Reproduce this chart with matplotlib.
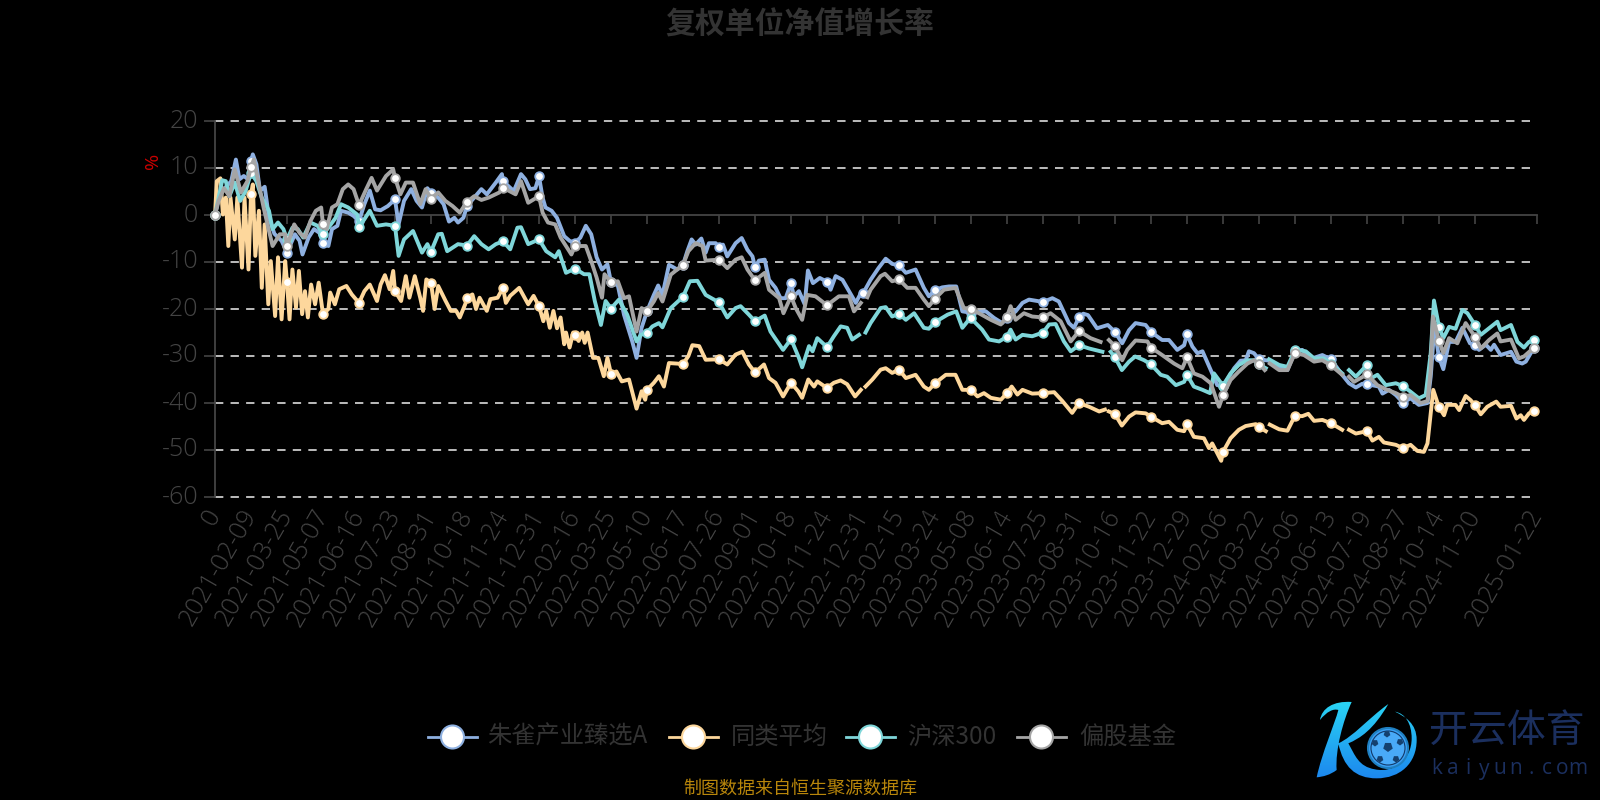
#!/usr/bin/env python3
import numpy as np
import matplotlib
matplotlib.use("Agg")
import matplotlib.pyplot as plt
from matplotlib.patches import Circle, PathPatch, RegularPolygon
from matplotlib.path import Path
from matplotlib.transforms import Affine2D

plt.rcParams['font.family'] = ['Noto Sans CJK SC', 'DejaVu Sans']
plt.rcParams['lines.scale_dashes'] = False
plt.rcParams['axes.unicode_minus'] = False

nan = float('nan')

title = '复权单位净值增长率'
source = '制图数据来自恒生聚源数据库'
series_names = ['朱雀产业臻选A', '同类平均', '沪深300', '偏股基金']
series_colors = ['#8eb0e0', '#fdd79c', '#7fd6d9', '#a5a5a5']

tick_labels = ['0', '2021-02-09', '2021-03-25', '2021-05-07', '2021-06-16', '2021-07-23',
               '2021-08-31', '2021-10-18', '2021-11-24', '2021-12-31', '2022-02-16',
               '2022-03-25', '2022-05-10', '2022-06-17', '2022-07-26', '2022-09-01',
               '2022-10-18', '2022-11-24', '2022-12-31', '2023-02-15', '2023-03-24',
               '2023-05-08', '2023-06-14', '2023-07-25', '2023-08-31', '2023-10-16',
               '2023-11-22', '2023-12-29', '2024-02-06', '2024-03-22', '2024-05-06',
               '2024-06-13', '2024-07-19', '2024-08-27', '2024-10-14', '2024-11-20',
               '2025-01-22']
y_ticks = [20, 10, 0, -10, -20, -30, -40, -50, -60]
last_k = 36.64

# (position in label intervals, growth %)
zhuque = [(0.0,0),(0.1,3.7),(0.25,5.5),(0.45,7.2),(0.58,11.8),(0.68,7.6),(0.8,8.3),(0.92,7.6),(1.0,11.5),(1.05,12.9),
    (1.15,10.8),(1.25,5.1),(1.38,6),(1.5,-0.6),(1.65,-4),(1.85,-5.5),(2.0,-8),(2.1,-6.2),(2.22,-4.1),(2.35,-5.5),
    (2.43,-8.4),(2.6,-4.8),(2.75,-3),(2.9,-3.8),(3.0,-6),(3.15,-6.6),(3.25,-3),(3.4,-2.3),(3.5,0.9),(3.7,0.5),
    (3.85,-0.2),(4.0,-1.3),(4.15,2.3),(4.3,5.2),(4.45,1.2),(4.6,1),(4.8,1.9),(5.0,3.3),(5.1,-2),(5.25,3),
    (5.45,5.5),(5.6,3),(5.75,1.6),(5.9,5.7),(6.0,4.7),(6.2,3.7),(6.35,2.3),(6.5,-1.4),(6.65,-0.6),(6.75,-1.6),
    (6.9,-0.6),(7.0,1.9),(7.2,3.7),(7.4,5.5),(7.55,4.4),(7.8,6.9),(7.97,8.7),(8.0,7.2),(8.1,6.5),(8.3,5.1),(8.5,8.7),
    (8.62,7.6),(8.75,5.5),(8.9,5.7),(9.0,8.2),(9.1,3.7),(9.18,1.6),(9.35,0.9),(9.5,-0.6),(9.7,-4.5),(9.85,-5.5),
    (10.0,-5.9),(10.15,-4.8),(10.3,-2.3),(10.45,-4.1),(10.6,-9),(10.75,-11.6),(10.9,-10.5),(11.0,-14.3),(11.19,-15),
    (11.36,-21.2),(11.59,-26.9),(11.71,-30.4),(11.85,-24),(12.0,-20.5),(12.19,-17),(12.31,-15),(12.43,-17),
    (12.61,-10.6),(12.84,-11.6),(13.0,-10.6),(13.12,-7.7),(13.24,-5.2),(13.35,-6.3),(13.51,-5),(13.63,-8),(13.72,-6),
    (13.91,-6),(14.0,-6.9),(14.11,-6.3),(14.23,-8.8),(14.46,-6),(14.63,-4.9),(14.79,-7.4),(14.93,-8.8),(15.0,-11.1),
    (15.11,-9.7),(15.27,-9.5),(15.39,-13.8),(15.57,-15.5),(15.71,-17.7),(15.85,-17.7),(16.0,-14.5),(16.08,-17.3),
    (16.22,-16.2),(16.38,-19),(16.47,-11.8),(16.61,-14.5),(16.8,-13.4),(17.0,-14.2),(17.1,-15.9),(17.24,-13),
    (17.43,-13.8),(17.61,-16.2),(17.8,-18.7),(17.94,-16.6),(18.0,-16.7),(18.21,-13.8),(18.43,-11.3),(18.63,-9.3),
    (18.81,-10.4),(19.0,-10.7),(19.19,-12.3),(19.46,-11.6),(19.69,-15.5),(19.83,-17.3),(20.0,-16),(20.2,-15.4),
    (20.39,-15.2),(20.59,-15.2),(20.76,-20.5),(21.0,-20.8),(21.41,-20.5),(21.64,-21.9),(21.87,-23),(22.0,-21.9),
    (22.24,-20.5),(22.43,-18.7),(22.61,-18),(23.0,-18.5),(23.26,-17.7),(23.44,-18.4),(23.72,-23),(23.86,-24),
    (24.0,-21.8),(24.12,-21),(24.25,-21.3),(24.5,-24.1),(24.8,-23.4),(25.0,-24.9),(25.2,-27.3),(25.39,-24.5),
    (25.57,-23),(25.85,-23.4),(26.0,-24.9),(26.31,-26.6),(26.5,-26.6),(26.73,-28.7),(26.92,-27.7),(27.0,-25.4),
    (27.15,-28),(27.29,-29.4),(27.43,-29),(27.7,-33.7),(27.84,-36.2),(28.0,-36.3),(28.17,-34.4),(28.31,-32.6),
    (28.49,-31),(28.63,-30.9),(28.72,-29),(28.86,-29.4),(29.0,-30.7),(29.28,-31),(29.56,-32.6),(29.79,-33),(30.0,-29),
    (30.2,-28.7),(30.48,-30.5),(30.76,-29.8),(31.0,-30.7),(31.31,-34),(31.5,-35.8),(31.69,-36.7),(31.87,-35.9),
    (32.0,-36),(32.33,-36.5),(32.43,-38),(32.61,-37.2),(32.8,-38.3),(33.0,-39.9),(33.21,-39),(33.44,-40.4),
    (33.68,-40),(33.77,-34.4),(33.87,-24),(34.0,-30.3),(34.12,-32.8),(34.28,-27),(34.46,-27),(34.65,-24),(34.86,-27.3),
    (35.0,-27.6),(35.11,-28.7),(35.3,-27.6),(35.44,-28.7),(35.53,-27.6),(35.71,-29.8),(36.0,-29.1),(36.15,-31.2),
    (36.31,-31.6),(36.41,-31.2),(last_k,-28.2)]

tonglei = [(0.0,0),(0.05,7.2),(0.15,7.8),(0.22,0.1),(0.3,3.7),(0.37,-6.6),(0.43,3.7),(0.55,-5.2),(0.62,3.7),(0.75,-11.2),
    (0.82,3.7),(0.93,-11.6),(1.0,4.4),(1.05,6.5),(1.12,-8.7),(1.22,0.9),(1.3,-15.5),(1.38,-2),(1.48,-19),(1.55,-9.8),
    (1.67,-21.5),(1.75,-9),(1.85,-22.2),(1.95,-9.8),(2.0,-14.3),(2.07,-22.2),(2.15,-11.6),(2.25,-19.7),(2.33,-11.9),
    (2.42,-21.1),(2.5,-16.2),(2.58,-21.8),(2.67,-14.8),(2.78,-19),(2.88,-14.4),(3.0,-21.1),(3.15,-20),(3.2,-16.5),
    (3.33,-19),(3.45,-15.8),(3.65,-15.1),(3.8,-16.9),(4.0,-18.7),(4.15,-16.2),(4.3,-14.8),(4.5,-18.3),(4.6,-14.8),
    (4.72,-12.8),(4.85,-15.8),(4.95,-11.9),(5.0,-16.2),(5.17,-18.3),(5.3,-13),(5.4,-17.6),(5.55,-13),(5.7,-17.6),
    (5.78,-20.4),(5.87,-13.7),(6.0,-14.4),(6.1,-20),(6.2,-15.1),(6.4,-18.2),(6.55,-20.4),(6.7,-20.4),(6.8,-21.8),
    (6.95,-19),(7.0,-17.6),(7.15,-16.9),(7.25,-20),(7.35,-17.6),(7.55,-20.4),(7.65,-17.9),(7.85,-17.6),(8.0,-15.5),
    (8.08,-18.7),(8.2,-17.2),(8.45,-15.5),(8.6,-17.6),(8.7,-19),(8.85,-17.2),(9.0,-19.4),(9.12,-22.6),(9.2,-20.4),
    (9.3,-24),(9.4,-20.4),(9.5,-24.1),(9.6,-21.8),(9.7,-27.5),(9.75,-25),(9.85,-28.2),(9.95,-25),(10.0,-25.6),
    (10.1,-26.8),(10.2,-25),(10.27,-27.2),(10.35,-25),(10.5,-30.4),(10.65,-30.4),(10.8,-34.3),(10.9,-30.4),(11.0,-33.8),
    (11.15,-33.3),(11.3,-35.4),(11.5,-35),(11.71,-41.2),(11.85,-37.5),(11.95,-39.3),(12.0,-37.2),(12.19,-35.7),
    (12.33,-34.3),(12.47,-36.5),(12.61,-31.5),(13.0,-31.7),(13.15,-30),(13.26,-27.7),(13.45,-27.9),(13.63,-30.8),
    (14.0,-30.7),(14.23,-31.8),(14.46,-29.7),(14.65,-29.1),(14.83,-31.8),(15.0,-33.5),(15.25,-31.8),(15.39,-34.7),
    (15.57,-35.7),(15.78,-38.6),(16.0,-35.7),(16.2,-37.5),(16.31,-38.9),(16.48,-35),(16.64,-36.5),(16.73,-35.4),
    (17.0,-36.8),(17.19,-35.7),(17.38,-35.2),(17.56,-36),(17.78,-38.6),(17.94,-37.2),(18.0,nan),(18.07,-36.5),
    (18.26,-35),(18.49,-32.9),(18.63,-32.6),(18.81,-33.6),(19.0,-32.9),(19.19,-34.7),(19.46,-34),(19.69,-36.5),
    (19.83,-37.2),(20.0,-35.8),(20.3,-34),(20.57,-34),(20.76,-37.2),(21.0,-37.2),(21.18,-38.6),(21.36,-37.9),
    (21.55,-38.9),(21.83,-39.3),(22.0,-37.9),(22.13,-36.5),(22.29,-38.2),(22.43,-37.2),(22.7,-38),(23.0,-37.9),
    (23.31,-37.7),(23.54,-39.6),(23.81,-42.1),(24.0,-40),(24.28,-40.8),(24.56,-41.8),(24.72,-41.4),(24.77,nan),
    (24.83,-41.8),(25.0,-42.4),(25.19,-44.8),(25.39,-42.9),(25.57,-42),(25.85,-42.2),(26.0,-42.9),(26.31,-44.3),
    (26.5,-44),(26.73,-45.7),(26.92,-46),(27.0,-44.5),(27.19,-47.2),(27.47,-47.5),(27.61,-49.6),(27.7,-48.6),
    (27.95,-52.3),(28.0,-50.4),(28.21,-47.5),(28.44,-45.7),(28.63,-44.9),(28.91,-44.5),(29.0,-45.1),(29.19,-46),
    (29.24,nan),(29.3,-44.6),(29.56,-45.6),(29.79,-45.9),(30.0,-42.7),(30.2,-42.8),(30.37,-42.3),(30.53,-43.8),
    (30.76,-43.6),(31.0,-44.3),(31.31,-45.7),(31.4,nan),(31.5,-45.7),(31.69,-46.5),(32.0,-46),(32.15,-48),(32.33,-47.2),
    (32.47,-48.4),(32.8,-48.9),(33.0,-49.6),(33.21,-48.9),(33.4,-50.2),(33.58,-50.4),(33.68,-48.6),(33.77,-42.2),
    (33.84,-37.2),(34.0,-40.9),(34.14,-42.6),(34.23,-40.4),(34.46,-40.4),(34.56,-41.5),(34.74,-38.5),(34.88,-39.4),
    (35.0,-40.5),(35.16,-42.4),(35.34,-40.8),(35.59,-39.7),(35.71,-40.8),(36.0,-40.6),(36.15,-43.3),(36.27,-42.6),
    (36.36,-43.6),(36.5,-42.2),(last_k,-41.6)]

hushen = [(0.0,0),(0.1,3.7),(0.2,7.4),(0.3,7.2),(0.4,4),(0.55,6.9),(0.7,3),(0.85,5.1),(1.0,9),(1.15,7.2),(1.3,3.7),
    (1.5,0.9),(1.6,-3),(1.75,-1.6),(1.9,-3),(2.0,-5.2),(2.15,-2.7),(2.3,-3),(2.45,-4.8),(2.65,-1.6),(2.85,-2.3),
    (3.0,-4.1),(3.15,-2.7),(3.35,-0.6),(3.5,2.3),(3.7,1.6),(3.95,0.1),(4.0,-2.5),(4.15,-0.9),(4.3,0.9),(4.5,-2.3),
    (4.75,-2),(5.0,-2.3),(5.1,-8.7),(5.25,-5.2),(5.5,-3.4),(5.75,-8),(5.9,-6.2),(6.0,-7.8),(6.2,-4.1),(6.3,-4),
    (6.45,-7.7),(6.75,-6.2),(7.0,-6.5),(7.2,-4.5),(7.4,-6.2),(7.6,-7.3),(7.8,-6.2),(8.0,-5.6),(8.2,-7.3),(8.4,-2.7),
    (8.5,-2.6),(8.7,-6.2),(9.0,-5.2),(9.2,-7.7),(9.45,-9),(9.55,-7.7),(9.75,-12.3),(10.0,-11.4),(10.25,-12.6),
    (10.4,-12.6),(10.55,-18.3),(10.72,-23.4),(10.85,-18.3),(11.0,-19.9),(11.22,-18),(11.45,-21.2),(11.71,-26.9),
    (11.83,-25.5),(12.0,-25),(12.15,-23.7),(12.33,-23),(12.43,-23.9),(12.66,-19.8),(13.0,-17.4),(13.19,-14.1),
    (13.4,-14),(13.63,-17),(14.0,-18.6),(14.23,-21.8),(14.46,-19.8),(14.6,-19.4),(14.83,-21.2),(15.0,-22.6),
    (15.27,-21.4),(15.43,-24.8),(15.78,-28.7),(16.0,-26.4),(16.22,-30.4),(16.31,-32.4),(16.5,-27.9),(16.6,-29),
    (16.73,-26.2),(17.0,-28.1),(17.19,-25.8),(17.38,-23.7),(17.56,-24),(17.7,-26.5),(17.89,-25.5),(18.0,nan),
    (18.07,-25),(18.21,-23),(18.49,-19.8),(18.63,-19.6),(18.81,-21.6),(19.0,-21),(19.19,-22.3),(19.42,-20.9),
    (19.69,-24),(19.83,-24.2),(20.0,-22.8),(20.35,-21.2),(20.59,-20.5),(20.76,-24),(20.94,-22.3),(21.0,-22),
    (21.31,-24.4),(21.5,-26.5),(21.78,-26.9),(22.0,-25.9),(22.1,-24.4),(22.24,-26.5),(22.43,-25.5),(22.7,-25.8),
    (23.0,-25),(23.17,-23.3),(23.35,-23.2),(23.58,-26.9),(23.77,-29),(24.0,-27.7),(24.28,-28.4),(24.65,-29.1),
    (24.75,nan),(24.88,-29.1),(25.0,-30.3),(25.19,-33),(25.39,-31.2),(25.56,-30.1),(25.81,-30.9),(26.0,-31.8),
    (26.27,-34),(26.45,-34.4),(26.69,-36.2),(26.92,-35.5),(27.0,-34),(27.19,-36.5),(27.43,-37.2),(27.64,-37.9),
    (27.75,-33.7),(28.0,-36.3),(28.21,-33.7),(28.44,-31.9),(28.68,-30.9),(28.86,-30.9),(29.0,-31.8),(29.19,-32.6),
    (29.22,nan),(29.28,-30.7),(29.56,-31.9),(29.79,-32.3),(30.0,-28.7),(30.3,-29),(30.53,-30.5),(30.8,-30.5),(31.0,-31.6),
    (31.31,-33.7),(31.4,nan),(31.5,-33),(31.69,-34.4),(32.0,-31.9),(32.1,-34.8),(32.29,-34),(32.52,-36.2),(32.8,-35.8),
    (33.0,-36.4),(33.21,-37.6),(33.44,-39),(33.63,-38.3),(33.77,-29.4),(33.86,-18.2),(34.0,-23.8),(34.12,-26.2),
    (34.28,-23.8),(34.46,-24.2),(34.65,-20.2),(34.79,-20.9),(35.0,-23.4),(35.16,-25.5),(35.39,-24.1),(35.62,-22.7),
    (35.71,-24.5),(36.0,-23.4),(36.18,-27),(36.36,-28.2),(36.5,-27),(last_k,-26.7)]

piangu = [(0.0,0),(0.1,3),(0.25,5.7),(0.4,4),(0.55,9.7),(0.72,4.8),(0.9,7.2),(1.0,10.2),(1.08,11.8),(1.2,7.2),(1.35,1.6),
    (1.5,-3.4),(1.6,-6.6),(1.8,-4.1),(1.95,-4.1),(2.0,-6.7),(2.2,-2),(2.35,-3.8),(2.5,-4.8),(2.65,-1.3),(2.8,0.9),
    (2.95,1.6),(3.0,-2),(3.1,-3),(3.25,1.6),(3.4,2.3),(3.55,5.5),(3.7,6.5),(3.85,5.5),(4.0,2.1),(4.2,5.5),(4.35,7.9),
    (4.5,5.2),(4.75,8.3),(4.95,9.7),(5.0,7.9),(5.15,4.4),(5.3,6.9),(5.5,6.9),(5.7,2.3),(5.85,5.5),(6.0,3.5),(6.2,4.8),
    (6.4,3),(6.6,1.9),(6.8,0.5),(7.0,2.8),(7.2,4),(7.4,3.2),(7.6,3.7),(7.9,4.8),(8.0,5.8),(8.15,5.2),(8.35,4.4),
    (8.5,7.2),(8.7,2.6),(9.0,4),(9.1,0.5),(9.25,-1.6),(9.45,-2),(9.6,-4.8),(9.75,-6.6),(9.9,-8.4),(10.0,-6.6),
    (10.3,-6.6),(10.45,-9.8),(10.6,-13.3),(10.75,-17.6),(10.82,-12.6),(11.0,-14.3),(11.19,-14.1),(11.36,-17.7),
    (11.5,-17.3),(11.71,-24.8),(11.85,-19.8),(12.0,-20.5),(12.19,-18.4),(12.31,-16.6),(12.43,-18.4),(12.66,-12.7),
    (13.0,-10.6),(13.15,-7.7),(13.35,-6),(13.54,-6.6),(13.63,-9.7),(14.0,-9.5),(14.23,-11.3),(14.46,-9.5),(14.63,-9),
    (14.79,-11.6),(15.0,-13.9),(15.27,-12.3),(15.39,-15.9),(15.67,-17.7),(15.79,-20.9),(16.0,-17.3),(16.13,-19.8),
    (16.31,-22.3),(16.45,-17),(16.68,-17.3),(17.0,-19.2),(17.33,-17.3),(17.61,-17.3),(17.75,-20.5),(17.94,-18.7),
    (18.0,nan),(18.12,-17.5),(18.21,-15.9),(18.49,-13),(18.61,-12.5),(18.81,-14.1),(19.0,-13.7),(19.23,-15.5),
    (19.46,-15.5),(19.69,-18),(19.83,-19.4),(20.0,-17.8),(20.25,-15.9),(20.57,-15.5),(20.8,-19.8),(21.0,-19.9),
    (21.22,-20.9),(21.55,-22.3),(21.83,-23.3),(22.0,-21.6),(22.1,-19.4),(22.24,-22.3),(22.47,-20.9),(22.7,-21.6),
    (23.0,-21.8),(23.21,-20.9),(23.49,-22.6),(23.77,-26.9),(24.0,-24.7),(24.32,-26.2),(24.6,-27),(24.7,nan),
    (24.83,-26.6),(25.0,-27.9),(25.2,-30.9),(25.34,-28.7),(25.57,-26.7),(25.9,-26.9),(26.0,-28.2),(26.31,-29.8),
    (26.64,-31.6),(26.87,-32.6),(27.0,-30.3),(27.19,-33.7),(27.43,-34.4),(27.66,-35.8),(27.89,-40.8),(28.0,-38.4),
    (28.21,-35.1),(28.44,-33.3),(28.68,-31.6),(28.86,-30.9),(29.0,-31.6),(29.16,-33),(29.22,nan),(29.3,-31.6),
    (29.56,-33),(29.79,-33),(30.0,-29.4),(30.25,-29.8),(30.53,-31.2),(30.76,-30.9),(31.0,-32),(31.31,-34),(31.4,nan),
    (31.5,-34.4),(31.64,-35.5),(32.0,-33.9),(32.29,-36.2),(32.56,-37.2),(32.8,-37.9),(33.0,-38.7),(33.21,-38.3),
    (33.49,-40),(33.68,-39.6),(33.77,-33),(33.83,-21.6),(34.0,-26.8),(34.12,-29.4),(34.28,-26.2),(34.51,-27.3),
    (34.74,-23),(35.0,-25.9),(35.16,-28.4),(35.39,-26.6),(35.62,-25.2),(35.71,-26.9),(36.0,-26.5),(36.22,-30.5),
    (36.36,-30.1),(last_k,-28.2)]

W, H = 1600, 800
fig = plt.figure(figsize=(16, 8), dpi=100, facecolor='black')
left, right, top, bottom = 215, 1537, 121, 497
ax = fig.add_axes([left / W, 1 - bottom / H, (right - left) / W, (bottom - top) / H], facecolor='black')
ax.set_xlim(0, (right - left) / 36)
ax.set_ylim(-60, 20)

# dashed grid, the zero line is the x axis itself
for v in y_ticks:
    if v != 0:
        ax.plot([0, (right - left) / 36], [v, v], color='#dddddd', lw=1.2,
                linestyle=(0, (6, 5.2)), zorder=1, clip_on=False)

mark_k = list(range(len(tick_labels) - 1)) + [last_k]
all_series = [zhuque, tonglei, hushen, piangu]
for i, pts in enumerate(all_series):
    k = np.array([p[0] for p in pts])
    v = np.array([p[1] for p in pts], dtype=float)
    c = series_colors[i]
    ax.plot(k, v, color=c, lw=2.8, solid_joinstyle='round', zorder=3 + i, clip_on=False)
    m = np.isin(k, mark_k) & ~np.isnan(v)
    ax.plot(k[m], v[m], linestyle='none', marker='o', ms=6.2, mfc='white', mec=c, mew=1.3,
            zorder=3 + i, clip_on=False)

for s in ['top', 'right']:
    ax.spines[s].set_visible(False)
ax.spines['bottom'].set_position(('data', 0))
ax.spines['bottom'].set_color('#444444')
ax.spines['left'].set_color('#444444')
ax.spines['bottom'].set_linewidth(1.3)
ax.spines['left'].set_linewidth(1.3)

ax.set_yticks(y_ticks)
ax.tick_params(axis='y', color='#444444', labelcolor='#444444', length=8, width=1.2, pad=4, labelsize=18)
for t in ax.get_yticklabels():
    t.set_family(['Open Sans', 'DejaVu Sans'])
    t.set_fontweight('light')
    t.set_transform(t.get_transform() + Affine2D().translate(0, 3))

tick_pos = list(range(len(tick_labels) - 1)) + [(right - left) / 36]
ax.set_xticks(tick_pos)
ax.set_xticklabels(tick_labels, rotation=60, ha='right', va='center', rotation_mode='anchor',
                   family=['Open Sans', 'DejaVu Sans'], fontweight='light')
ax.tick_params(axis='x', color='#444444', labelcolor='#444444', length=6.5, width=1.2, pad=207, labelsize=18)

# everything outside the axes, placed in picture pixels
ov = fig.add_axes([0, 0, 1, 1], facecolor='none', zorder=10)
ov.set_xlim(0, W)
ov.set_ylim(H, 0)
ov.axis('off')

ov.text(800, 24.5, title, ha='center', va='center', fontsize=21.5, fontweight='bold', color='#333333')
ov.text(153, 161, '%', ha='center', va='center', rotation=90, fontsize=14, color='#cc0000',
        family=['Open Sans', 'DejaVu Sans'])
ov.text(800, 789, source, ha='center', va='center', fontsize=13, color='#b8860b')

legend_x = [(428, 487), (669, 731), (846, 907), (1017, 1079)]
for (hx, tx), name, c in zip(legend_x, series_names, series_colors):
    ov.plot([hx, hx + 49], [737, 737], color=c, lw=2, zorder=2)
    ov.add_patch(Circle((hx + 24.5, 737), 11.5, fc='white', ec=c, lw=1.5, zorder=3))
    ov.text(tx, 737, name, ha='left', va='center', fontsize=17.5, color='#333333', fontweight='light')

# logo
def logo_xy(pairs):
    return [(1280 + x / 3, 680 + y / 3) for x, y in pairs]

stem = logo_xy([(120,120),(125,85),(160,62),(215,66),(190,120),(165,210),(170,270),(150,285),(130,290),(110,292),
                (125,220),(165,130),(175,90),(160,85),(140,95),(120,120)])
swoosh = logo_xy([(325,72),(280,150),(240,175),(205,190),(225,225),(235,260),(285,268),(340,280),(395,240),(395,175),
                  (395,130),(375,100),(345,95),(375,110),(410,130),(410,180),(410,250),(360,295),(290,295),
                  (225,295),(190,260),(175,190),(220,170),(265,115),(325,72)])
stem_path = Path(stem, [Path.MOVETO] + [Path.CURVE4] * (len(stem) - 1))
swoosh_path = Path(swoosh, [Path.MOVETO] + [Path.CURVE4] * (len(swoosh) - 1))
patch = PathPatch(Path.make_compound_path(stem_path, swoosh_path), fc='none', ec='none')
ov.add_patch(patch)
grad = np.linspace(0, 1, 64).reshape(-1, 1)
cm = matplotlib.colors.LinearSegmentedColormap.from_list('logo', ['#2ad6f5', '#1c86ee'])
im = ov.imshow(grad, extent=(1310, 1425, 780, 700), cmap=cm, aspect='auto', zorder=4)
im.set_clip_path(patch)
ov.set_xlim(0, W)
ov.set_ylim(H, 0)
ov.add_patch(Circle((1388, 748), 20, fc='#3aa0f5', ec='#1f7fc0', lw=1.5, zorder=5))
ov.add_patch(Circle((1388, 748), 17, fc='#49aaf8', ec='#123a6a', lw=0.8, zorder=5))
for dx, dy, r in [(0, -1, 5), (-1, -14, 3.5), (-13, -5, 3.5), (12, -6, 3.5), (-8, 11, 3.5), (8, 11, 3.5)]:
    ov.add_patch(RegularPolygon((1388 + dx, 748 + dy), 5, radius=r, fc='#14406f', ec='none', zorder=6))
ov.text(1507, 731, '开云体育', ha='center', va='center', fontsize=28, color='#1b2f5e')
for ch, x in zip('kaiyun.com', np.linspace(1437, 1578, 10)):
    ov.text(x, 769, ch, ha='center', va='center', fontsize=15, color='#1b2f5e',
            family=['Open Sans', 'DejaVu Sans'])

fig.savefig('out.png', dpi=100, facecolor='black')
